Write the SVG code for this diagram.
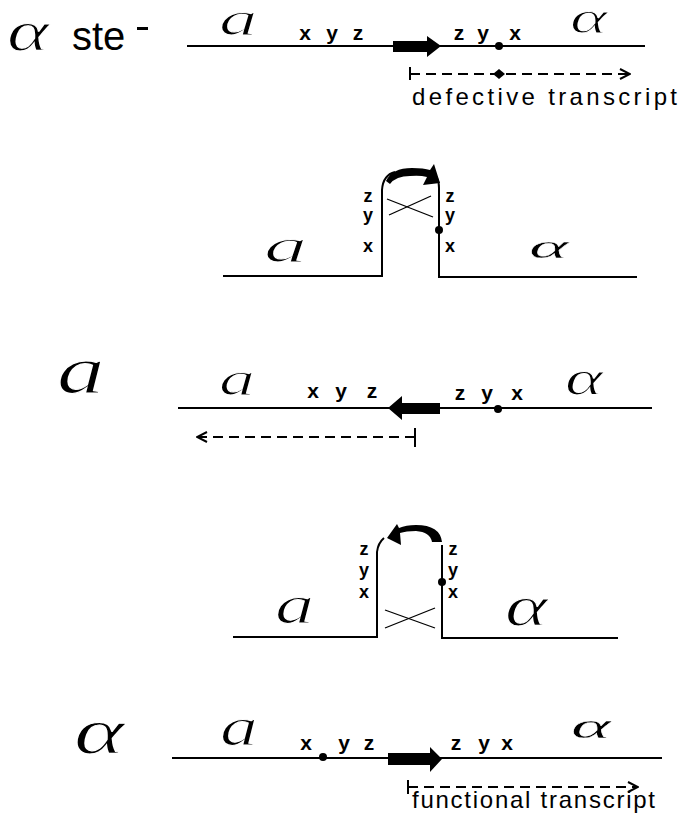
<svg xmlns="http://www.w3.org/2000/svg" width="681" height="819" viewBox="0 0 681 819">
  <defs>
    <marker id="chev-end" viewBox="0 0 12 12" refX="11" refY="6" markerWidth="12" markerHeight="12" markerUnits="userSpaceOnUse" orient="auto">
      <path d="M1,1 L11,6 L1,11" fill="none" stroke="#000" stroke-width="2"/>
    </marker>
  </defs>
  <style>
    .dna { fill: none; stroke: #000; stroke-width: 2; }
    .dash { fill: none; stroke: #000; stroke-width: 2; stroke-dasharray: 10 6; }
    .thin { fill: none; stroke: #000; stroke-width: 1.3; }
    .gene { fill: #000; stroke: none; }
    .site { font-family: "Liberation Sans", Arial, sans-serif; font-weight: bold; font-size: 21px; text-anchor: middle; fill: #000; }
    .stack { font-size: 18px; }
    /* hand-lettered mating-type symbols: white outline painted over the fill keeps the pen line thin */
    .script { font-family: "Liberation Serif", "Times New Roman", serif; font-style: italic; fill: #000; stroke: #fff; stroke-width: 1.1; paint-order: fill stroke; }
    .flat { stroke-width: 0.35; }
    .label { font-family: "Liberation Sans", Arial, sans-serif; font-size: 24px; fill: #000; }
    .title { font-family: "Liberation Sans", Arial, sans-serif; font-size: 40px; fill: #000; }
  </style>
  <rect width="681" height="819" fill="#fff"/>

  <!-- row 1: alpha ste- strain, forward orientation -->
  <g id="row-ste">
    <text class="script" transform="translate(7,50) scale(1.4,1)" font-size="57">α</text>
    <text class="title" x="72" y="50">ste</text>
    <rect x="137" y="27" width="11" height="3" fill="#000"/>
    <text class="script" transform="translate(219,35) scale(1.6,1)" font-size="48">a</text>
    <text class="script" transform="translate(570,33) scale(1.55,1)" font-size="46">α</text>
    <text class="site" x="305" y="40">x</text>
    <text class="site" x="332" y="40">y</text>
    <text class="site" x="358" y="40">z</text>
    <text class="site" x="459" y="40">z</text>
    <text class="site" x="483" y="40">y</text>
    <text class="site" x="515" y="40">x</text>
  </g>

  <!-- row 2: loop pairing, inversion forward to reverse -->
  <g id="loop-1">
    <text class="script" transform="translate(264,262) scale(1.8,1)" font-size="48">a</text>
    <text class="script flat" transform="translate(529,258) scale(2.2,1)" font-size="34">α</text>
    <text class="site stack" x="368" y="202">z</text>
    <text class="site stack" x="368" y="221">y</text>
    <text class="site stack" x="368" y="252">x</text>
    <text class="site stack" x="450" y="202">z</text>
    <text class="site stack" x="450" y="221">y</text>
    <text class="site stack" x="450" y="252">x</text>
  </g>

  <!-- row 3: a strain, reversed orientation -->
  <g id="row-a">
    <text class="script" transform="translate(57,393) scale(1.4,1)" font-size="68">a</text>
    <text class="script" transform="translate(219,395) scale(1.5,1)" font-size="48">a</text>
    <text class="script" transform="translate(565,395) scale(1.45,1)" font-size="50">α</text>
    <text class="site" x="313" y="398">x</text>
    <text class="site" x="341" y="398">y</text>
    <text class="site" x="372" y="398">z</text>
    <text class="site" x="460" y="400">z</text>
    <text class="site" x="487" y="400">y</text>
    <text class="site" x="517" y="400">x</text>
  </g>

  <!-- row 4: loop pairing, inversion reverse to forward -->
  <g id="loop-2">
    <text class="script" transform="translate(275,623) scale(1.45,1)" font-size="54">a</text>
    <text class="script" transform="translate(505,625) scale(1.4,1)" font-size="58">α</text>
    <text class="site stack" x="364" y="555">z</text>
    <text class="site stack" x="364" y="576">y</text>
    <text class="site stack" x="364" y="598">x</text>
    <text class="site stack" x="453" y="555">z</text>
    <text class="site stack" x="453" y="576">y</text>
    <text class="site stack" x="453" y="598">x</text>
  </g>

  <!-- row 5: alpha strain, forward orientation -->
  <g id="row-alpha">
    <text class="script" transform="translate(74,753) scale(1.45,1)" font-size="66">α</text>
    <text class="script" transform="translate(220,745) scale(1.4,1)" font-size="54">a</text>
    <text class="script flat" transform="translate(571,738) scale(2.1,1)" font-size="36">α</text>
    <text class="site" x="306" y="750">x</text>
    <text class="site" x="344" y="750">y</text>
    <text class="site" x="369" y="750">z</text>
    <text class="site" x="456" y="750">z</text>
    <text class="site" x="484" y="750">y</text>
    <text class="site" x="507" y="750">x</text>
  </g>

  <g id="connectors">
    <!-- row 1 -->
    <line class="dna" x1="187" y1="46" x2="645" y2="46"/>
    <polygon class="gene" points="393,41 427,41 427,36 441,46 427,57 427,52 393,52"/>
    <circle cx="499" cy="46" r="4"/>
    <line class="dna" x1="410" y1="67" x2="410" y2="80"/>
    <line class="dash" x1="410" y1="74" x2="630" y2="74" marker-end="url(#chev-end)"/>
    <polygon class="gene" points="493,74 499,69 505,74 499,79"/>
    <text class="label" x="412" y="105" textLength="265" lengthAdjust="spacing">defective transcript</text>

    <!-- row 2 -->
    <path class="dna" d="M223,276 H382 V190 Q383,175 395,172 M429,172 Q439,175 439,188 V277 H637"/>
    <path class="gene" d="M386,181 Q392,168 412,168 Q424,168 430,170 L434,164 L440,183 L423,185 L427,177 Q420,175 410,176 Q396,176 390,184 Z"/>
    <line class="thin" x1="387" y1="199" x2="433" y2="217"/>
    <line class="thin" x1="389" y1="215" x2="431" y2="196"/>
    <circle cx="439" cy="230" r="4"/>

    <!-- row 3 -->
    <line class="dna" x1="178" y1="408" x2="652" y2="408"/>
    <polygon class="gene" points="440,403 402,403 402,396 388,408 402,420 402,414 440,414"/>
    <circle cx="498" cy="409" r="4"/>
    <line class="dash" x1="415" y1="437" x2="197" y2="437" marker-end="url(#chev-end)"/>
    <line class="dna" x1="415" y1="428" x2="415" y2="447"/>

    <!-- row 4 -->
    <path class="dna" d="M233,637 H377 V552 Q378,543 384,538 M442,545 V638 H618"/>
    <path class="gene" d="M442,542 L432,542 Q430,532 416,531 Q406,531 400,533 L401,545 L387,538 L397,524 L399,528 Q406,525 416,525 Q440,525 442,542 Z"/>
    <line class="thin" x1="385" y1="610" x2="435" y2="628"/>
    <line class="thin" x1="385" y1="628" x2="435" y2="608"/>
    <circle cx="442" cy="582" r="4"/>

    <!-- row 5 -->
    <line class="dna" x1="172" y1="758" x2="662" y2="758"/>
    <polygon class="gene" points="388,753 430,753 430,747 442,759 430,772 430,765 388,765"/>
    <circle cx="323" cy="757" r="4"/>
    <line class="dna" x1="408" y1="780" x2="408" y2="794"/>
    <line class="dash" x1="408" y1="787" x2="638" y2="787" marker-end="url(#chev-end)"/>
    <text class="label" x="412" y="808" textLength="243" lengthAdjust="spacing">functional transcript</text>
  </g>
</svg>
